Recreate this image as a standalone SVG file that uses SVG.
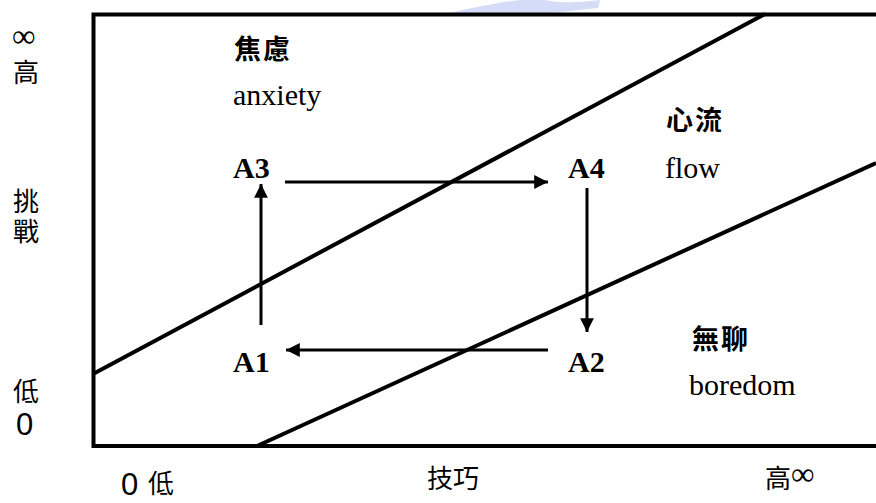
<svg xmlns="http://www.w3.org/2000/svg" width="876" height="503" viewBox="0 0 876 503">
<style>
.en{font-family:"Liberation Serif","Times New Roman",serif;font-size:30px;fill:#000}
.enb{font-family:"Liberation Serif","Times New Roman",serif;font-size:30px;font-weight:bold;fill:#000}
.cjkb{font-family:"Liberation Serif","Noto Sans CJK TC",serif;font-size:27px;font-weight:bold;fill:#000;letter-spacing:2px}
.ax{font-family:"Liberation Serif","Noto Sans CJK TC",serif;font-size:26px;fill:#000}
.inf{font-family:"Liberation Serif","DejaVu Serif",serif;font-size:33px;fill:#000}
.num{font-family:"Liberation Sans","Noto Sans CJK TC",sans-serif;font-size:31px;fill:#000}
.frame{fill:none;stroke:#000;stroke-width:4}
.conn{fill:none;stroke:#000;stroke-width:3}
</style>
<defs>
<marker id="ah" viewBox="0 0 10 10" refX="10" refY="5" markerWidth="5" markerHeight="4.6" orient="auto" markerUnits="strokeWidth">
<path d="M0,0 L10,5 L0,10 z" fill="#000"/>
</marker>
</defs>
<rect width="876" height="503" fill="#fff"/>
<g id="watermark" opacity="0.5">
<path d="M445,14 C470,8 500,2 520,0 L545,0 C560,4 585,2 600,0 L598,8 C580,10 560,12 540,14 Z" fill="#a9b9f0"/>
</g>
<g id="frame">
<path class="frame" d="M876,14.5 H93.5 V446 H876"/>
<line class="frame" x1="93" y1="374" x2="765" y2="14"/>
<line class="frame" x1="257" y1="446" x2="876" y2="163"/>
</g>
<g id="axis-labels">
<text class="inf" x="12" y="47">∞</text>
<text class="ax" x="13" y="82">高</text>
<text class="ax" x="13" y="211">挑</text>
<text class="ax" x="13" y="241">戰</text>
<text class="ax" x="13" y="401">低</text>
<text class="num" x="16" y="435">0</text>
<text class="num" x="121" y="495">0</text>
<text class="ax" x="148" y="493">低</text>
<text class="ax" x="427" y="488">技巧</text>
<text class="ax" x="765" y="488">高</text>
<text class="inf" x="791" y="485">∞</text>
</g>
<g id="region-anxiety">
<text class="cjkb" x="234" y="59">焦慮</text>
<text class="en" x="233" y="105">anxiety</text>
</g>
<g id="region-flow">
<text class="cjkb" x="666" y="130">心流</text>
<text class="en" x="665" y="178">flow</text>
</g>
<g id="region-boredom">
<text class="cjkb" x="692" y="349">無聊</text>
<text class="en" x="689" y="395">boredom</text>
</g>
<g id="A1"><text class="enb" x="233" y="372">A1</text></g>
<g id="A2"><text class="enb" x="568" y="372">A2</text></g>
<g id="A3"><text class="enb" x="233" y="178">A3</text></g>
<g id="A4"><text class="enb" x="568" y="178">A4</text></g>
<g id="connectors">
<line class="conn" x1="261" y1="325" x2="261" y2="184" marker-end="url(#ah)"/>
<line class="conn" x1="285" y1="182" x2="548" y2="182" marker-end="url(#ah)"/>
<line class="conn" x1="587" y1="188" x2="587" y2="332" marker-end="url(#ah)"/>
<line class="conn" x1="548" y1="350" x2="286" y2="350" marker-end="url(#ah)"/>
</g>
</svg>
